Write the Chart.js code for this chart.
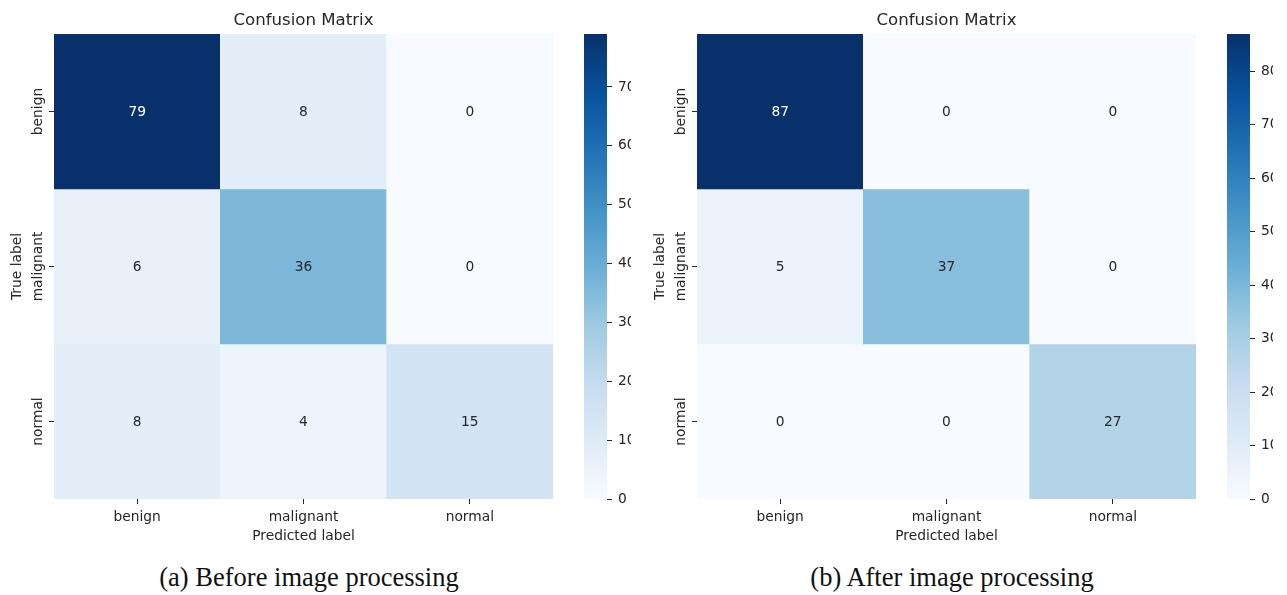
<!DOCTYPE html>
<html>
<head>
<meta charset="utf-8">
<script src="https://cdn.jsdelivr.net/npm/chart.js@4.4.1/dist/chart.umd.min.js"></script>
<style>
  html, body { margin: 0; padding: 0; background: #ffffff; }
  body { width: 1287px; height: 595px; position: relative; overflow: hidden; }
  .box { position: absolute; top: 0; height: 560px; }
  .box canvas { display: block; }
  .cap { position: absolute; top: 560px; font-family: "Liberation Serif", "Times New Roman", serif;
         font-size: 26.5px; color: #111; white-space: nowrap; transform: translateX(-50%); line-height: 34px; }
</style>
</head>
<body>
<div class="box" style="left:0px;width:560px;"><canvas id="hmA"></canvas></div>
<div class="box" style="left:584px;width:47px;"><canvas id="cbA"></canvas></div>
<div class="box" style="left:643px;width:560px;"><canvas id="hmB"></canvas></div>
<div class="box" style="left:1227px;width:46px;"><canvas id="cbB"></canvas></div>
<div class="cap" style="left:309px;">(a) Before image processing</div>
<div class="cap" style="left:952px;">(b) After image processing</div>
<script>
// ---- data ----
const classLabels = ['benign', 'malignant', 'normal'];
const chartTitle = 'Confusion Matrix';
const xAxisTitle = 'Predicted label';
const yAxisTitle = 'True label';
// rows = true label, columns = predicted label
const beforeBenign    = [79, 8, 0];
const beforeMalignant = [6, 36, 0];
const beforeNormal    = [8, 4, 15];
const afterBenign     = [87, 0, 0];
const afterMalignant  = [5, 37, 0];
const afterNormal     = [0, 0, 27];
const colorbarTicksBefore = [0, 10, 20, 30, 40, 50, 60, 70];
const colorbarTicksAfter  = [0, 10, 20, 30, 40, 50, 60, 70, 80];

// ---- styling helpers ----
const TEXT = '#262626';
const FONT = 'DejaVu Sans';
const BLUES = ['#f7fbff','#deebf7','#c6dbef','#9ecae1','#6baed6','#4292c6','#2171b5','#08519c','#08306b'];
function hexToRgb(h){ return [parseInt(h.substr(1,2),16), parseInt(h.substr(3,2),16), parseInt(h.substr(5,2),16)]; }
const BLUES_RGB = BLUES.map(hexToRgb);
function blues(t){
  t = Math.max(0, Math.min(1, t));
  const p = t * (BLUES_RGB.length - 1);
  const i = Math.min(Math.floor(p), BLUES_RGB.length - 2);
  const f = p - i;
  const a = BLUES_RGB[i], b = BLUES_RGB[i+1];
  return [0,1,2].map(k => a[k] + (b[k]-a[k]) * f);
}
function rgbStr(c){ return 'rgb(' + c.map(v => Math.round(v)).join(',') + ')'; }
function luminance(c){
  const l = c.map(v => { v = v/255; return v <= 0.03928 ? v/12.92 : Math.pow((v+0.055)/1.055, 2.4); });
  return 0.2126*l[0] + 0.7152*l[1] + 0.0722*l[2];
}

function makeHeatmap(id, rows){
  const vmax = Math.max(...rows.flat());
  const vmin = Math.min(...rows.flat());
  const datasets = rows.map((row, r) => ({
    data: row.map(() => [r, r + 1]),
    values: row,
    backgroundColor: row.map(v => rgbStr(blues((v - vmin) / (vmax - vmin)))),
    borderWidth: 0,
    barPercentage: 1,
    categoryPercentage: 1,
    grouped: false
  }));
  const annot = {
    id: 'annot',
    afterDatasetsDraw(chart){
      const c = chart.ctx;
      const ca = chart.chartArea;
      c.save();
      c.textAlign = 'center';
      c.textBaseline = 'middle';
      // title centred over the heatmap
      c.font = '16.6px "' + FONT + '"';
      c.fillStyle = TEXT;
      c.fillText(chartTitle, (ca.left + ca.right) / 2, 20.5);
      c.font = '13.8px "' + FONT + '"';
      chart.data.datasets.forEach((ds, r) => {
        const meta = chart.getDatasetMeta(r);
        meta.data.forEach((bar, j) => {
          const v = ds.values[j];
          const col = blues((v - vmin) / (vmax - vmin));
          c.fillStyle = luminance(col) > 0.408 ? TEXT : '#ffffff';
          const cy = (bar.y + bar.base) / 2;
          c.fillText(String(v), bar.x, cy + 1);
        });
      });
      // rotated y tick labels
      const ys = chart.scales.y;
      c.fillStyle = TEXT;
      classLabels.forEach((lab, r) => {
        const py = ys.getPixelForValue(r + 0.5);
        c.save();
        c.translate(38, py);
        c.rotate(-Math.PI / 2);
        c.fillText(lab, 0, 0);
        c.restore();
      });
      c.restore();
    }
  };
  return new Chart(document.getElementById(id), {
    type: 'bar',
    data: { labels: classLabels, datasets },
    plugins: [annot],
    options: {
      responsive: true,
      maintainAspectRatio: false,
      animation: false,
      layout: { padding: { left: 0, right: 7, top: 34, bottom: 0 } },
      plugins: {
        legend: { display: false },
        tooltip: { enabled: false },
        title: { display: false }
      },
      scales: {
        x: {
          type: 'category',
          offset: true,
          border: { display: false },
          grid: { offset: false, drawOnChartArea: false, drawTicks: true, tickLength: 5, tickColor: TEXT, lineWidth: 1 },
          ticks: { color: TEXT, font: { family: FONT, size: 13.8 }, padding: 5, maxRotation: 0, minRotation: 0 },
          title: { display: true, text: xAxisTitle, color: TEXT, font: { family: FONT, size: 13.8 }, padding: { top: 0, bottom: 15 } },
          afterFit(scale){ scale.height = 61; }
        },
        y: {
          type: 'linear',
          min: 0, max: classLabels.length,
          reverse: true,
          border: { display: false },
          grid: { drawOnChartArea: false, drawTicks: true, tickLength: 5, tickColor: TEXT, lineWidth: 1 },
          afterBuildTicks(scale){ scale.ticks = classLabels.map((_, i) => ({ value: i + 0.5 })); },
          ticks: { callback: () => '', padding: 0 },
          title: { display: true, text: yAxisTitle, color: TEXT, font: { family: FONT, size: 13.8 }, padding: { top: 9, bottom: 0 } },
          afterFit(scale){ scale.width = 54; }
        }
      }
    }
  });
}

function makeColorbar(id, rows, tickVals){
  const vmax = Math.max(...rows.flat());
  const vmin = Math.min(...rows.flat());
  return new Chart(document.getElementById(id), {
    type: 'bar',
    data: {
      labels: [''],
      datasets: [{
        data: [[vmin, vmax]],
        borderWidth: 0,
        barPercentage: 1,
        categoryPercentage: 1,
        backgroundColor(ctx){
          const ca = ctx.chart.chartArea;
          if (!ca) return BLUES[4];
          const g = ctx.chart.ctx.createLinearGradient(0, ca.bottom, 0, ca.top);
          BLUES.forEach((col, i) => g.addColorStop(i / (BLUES.length - 1), col));
          return g;
        }
      }]
    },
    options: {
      responsive: true,
      maintainAspectRatio: false,
      animation: false,
      layout: { padding: { left: 0, right: 0, top: 34, bottom: 61 } },
      plugins: { legend: { display: false }, tooltip: { enabled: false }, title: { display: false } },
      scales: {
        x: { display: false, offset: true },
        y: {
          type: 'linear',
          position: 'right',
          min: vmin, max: vmax,
          border: { display: false },
          grid: { drawOnChartArea: false, drawTicks: true, tickLength: 5, tickColor: TEXT, lineWidth: 1 },
          afterBuildTicks(scale){ scale.ticks = tickVals.map(v => ({ value: v })); },
          ticks: { color: TEXT, font: { family: FONT, size: 13.8 }, padding: 6 },
          afterFit(scale){ scale.width = scale.chart.width - 23; }
        }
      }
    }
  });
}

const beforeRows = [beforeBenign, beforeMalignant, beforeNormal];
const afterRows  = [afterBenign, afterMalignant, afterNormal];
makeHeatmap('hmA', beforeRows);
makeColorbar('cbA', beforeRows, colorbarTicksBefore);
makeHeatmap('hmB', afterRows);
makeColorbar('cbB', afterRows, colorbarTicksAfter);
</script>
</body>
</html>
